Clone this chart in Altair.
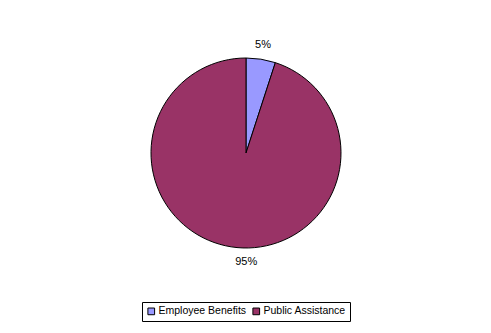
import altair as alt
import pandas as pd

categories = ["Employee Benefits", "Public Assistance"]
values = [5, 95]
labels = ["5%", "95%"]
colors = ["#9999FF", "#993366"]

df = pd.DataFrame({"category": categories, "value": values, "label": labels,
                   "order": [0, 1]})

color = alt.Color(
    "category:N",
    scale=alt.Scale(domain=categories, range=colors),
    legend=alt.Legend(
        title=None, orient="none", legendX=142, legendY=302, direction="horizontal",
        symbolType="square", symbolSize=45, symbolStrokeColor="black", symbolStrokeWidth=1,
        labelFont="Liberation Sans", labelFontSize=10.5, labelColor="black",
        strokeColor="black", fillColor="white", padding=4, columnPadding=3,
        symbolOffset=0, labelOffset=2,
    ),
)

base = alt.Chart(df).encode(
    theta=alt.Theta("value:Q", stack=True),
    order=alt.Order("order:Q"),
)

pie = base.mark_arc(stroke="black", strokeWidth=1, x=246, y=153, outerRadius=95).encode(
    color=color
)

text1 = base.mark_text(x=246, y=153, radius=109, font="Liberation Sans", fontSize=11,
                       color="black").encode(text="label:N").transform_filter(
    alt.datum.order == 0)
text2 = base.mark_text(x=246, y=153, radius=110, dx=-17, font="Liberation Sans", fontSize=11,
                       color="black").encode(text="label:N").transform_filter(
    alt.datum.order == 1)

chart = alt.layer(pie, text1, text2).properties(
    width=491, height=333, autosize=alt.AutoSizeParams(type="none"), padding=0,
    background="white",
).configure_view(stroke=None)

chart.save("out.html", embed_options={"renderer": "svg", "actions": False})
